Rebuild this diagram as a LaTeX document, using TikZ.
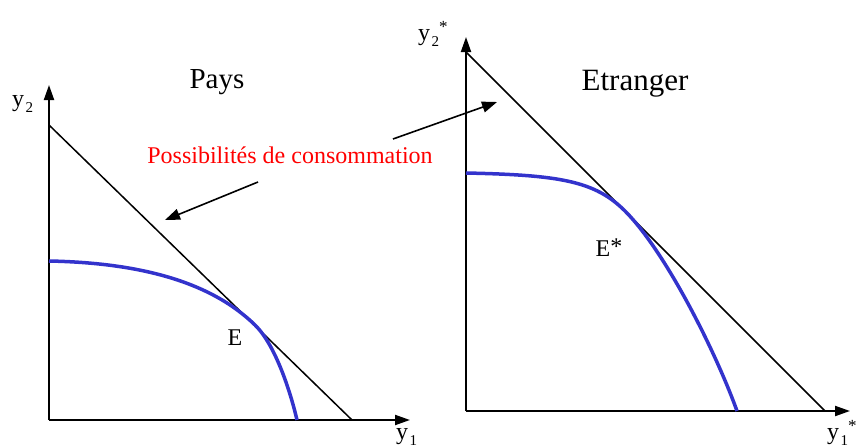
\documentclass[tikz,border=0pt]{standalone}
\usepackage{fontspec}
\setmainfont{LiberationSerif}[Extension=.ttf,UprightFont=*-Regular,BoldFont=*-Bold]
\usetikzlibrary{arrows.meta}
\definecolor{frontierblue}{RGB}{51,51,204}
\newcommand{\lowidx}[1]{\hspace{1.5pt}\raisebox{-6pt}{\fontsize{15}{15}\selectfont #1}}
\newcommand{\starmark}{\raisebox{8pt}{\fontsize{17}{17}\selectfont *}}
\tikzset{
  axis/.style={line width=2pt,-{Triangle[length=15pt,width=10pt]}},
  budget/.style={line width=1.5pt},
  frontier/.style={line width=3.5pt,frontierblue},
  pointer/.style={line width=1.6pt,-{Triangle[length=15pt,width=11pt]}},
  lbl/.style={inner sep=0pt,font=\fontsize{24}{26}\selectfont},
  title/.style={inner sep=0pt,font=\fontsize{29}{32}\selectfont},
}
\begin{document}
\begin{tikzpicture}[x=1pt,y=-1pt]
    \useasboundingbox (0,0) rectangle (866,447);

    % Pays
    \coordinate (O)  at (49,420);
    \coordinate (Y2) at (49,85);
    \coordinate (Y1) at (410,420);
    \coordinate (bA) at (49,125);
    \coordinate (bB) at (352,420);
    \draw[axis] (O) -- (Y2);
    \draw[axis] (O) -- (Y1);
    \draw[budget] (bA) -- (bB);
    \draw[frontier] (49,261) .. controls (150,263) and (215,286) .. (255,325)
                             .. controls (275,344.5) and (290,390) .. (297,420);
    \node[lbl,anchor=base west] (y2) at (12,106) {y\lowidx{2}};
    \node[lbl,anchor=base west] (y1) at (396,439) {y\lowidx{1}};
    \node[lbl] (E) at (235,338) {E};
    \node[title,anchor=base] (pays) at (217,88) {Pays};

    % Etranger
    \coordinate (Os)  at (466,411);
    \coordinate (Y2s) at (466,37);
    \coordinate (Y1s) at (850,411);
    \coordinate (sA)  at (466,52);
    \coordinate (sB)  at (825,411);
    \draw[axis] (Os) -- (Y2s);
    \draw[axis] (Os) -- (Y1s);
    \draw[budget] (sA) -- (sB);
    \draw[frontier] (466,173) .. controls (560,175) and (595,181) .. (625,211)
                              .. controls (665,251) and (715,350) .. (737,411);
    \node[lbl,anchor=base west] (y2s) at (418,40) {y\lowidx{2}\starmark};
    \node[lbl,anchor=base west] (y1s) at (827,439) {y\lowidx{1}\starmark};
    \node[lbl] (Es) at (609,248) {E\raisebox{2pt}{*}};
    \node[title,font=\fontsize{31}{33}\selectfont,anchor=base] (etranger) at (635,90) {Etranger};

    % possibilites de consommation
    \node[inner sep=0pt,red,font=\fontsize{24}{26}\selectfont] (poss) at (290,155) {Possibilités de consommation};
    \coordinate (pL) at (258,182);
    \coordinate (pR) at (393,139);
    \coordinate (tL) at (165,220);
    \coordinate (tR) at (497,102);
    \draw[pointer] (pL) -- (tL);
    \draw[pointer] (pR) -- (tR);
\end{tikzpicture}
\end{document}
